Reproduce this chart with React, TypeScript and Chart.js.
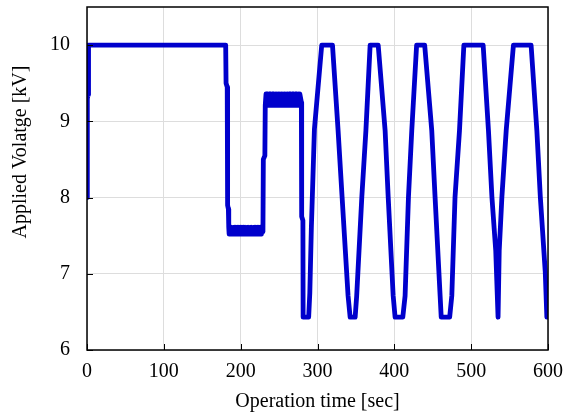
import React, { useEffect, useRef } from "react";
import { Chart, registerables } from "chart.js";

Chart.register(...registerables);

// Operation time [sec]
const timeSec: number[] = [
  0, 0.4, 1.5, 2,
  180.5, 181, 182.5, 183, 184, 184.5,
  185, 186, 187, 188, 189, 190, 191, 192, 193, 194, 195, 196, 197, 198, 199, 200, 201, 202, 203, 204, 205, 206,
  207, 208, 209, 210, 211, 212, 213, 214, 215, 216, 217, 218, 219, 220, 221, 222, 223, 224, 225, 226, 227, 228, 229,
  229.5, 231.5, 232,
  233, 234, 235, 236, 237, 238, 239, 240, 241, 242, 243, 244, 245, 246, 247, 248, 249, 250, 251, 252, 253, 254,
  255, 256, 257, 258, 259, 260, 261, 262, 263, 264, 265, 266, 267, 268, 269, 270, 271, 272, 273, 274, 275, 276, 277,
  279, 279.4, 281, 281.3,
  288.5, 290, 292, 296, 305.5,
  319.5, 326.8, 332, 339.8, 342.5,
  349, 351, 357.7, 363, 368.5,
  379, 388, 392, 398.5, 401,
  411, 414, 418.4, 422.7, 429,
  439.5, 448.7, 453, 459.6, 461,
  472, 474.8, 479, 484.8, 490.5,
  515.6, 522.5, 527, 532, 535,
  536.5, 540, 545.6, 555,
  578, 585.5, 590, 596.4, 598.5, 600,
];

// Applied voltage [kV]
const voltageKV: number[] = [
  8.0, 9.3, 9.35, 10.0,
  10.0, 9.5, 9.45, 7.9, 7.85, 7.61,
  7.52, 7.61, 7.52, 7.61, 7.52, 7.61, 7.52, 7.61, 7.52, 7.61, 7.52, 7.61, 7.52, 7.61, 7.52, 7.61, 7.52, 7.61, 7.52, 7.61, 7.52, 7.61,
  7.52, 7.61, 7.52, 7.61, 7.52, 7.61, 7.52, 7.61, 7.52, 7.61, 7.52, 7.61, 7.52, 7.61, 7.52, 7.61, 7.52, 7.61, 7.52, 7.61, 7.52, 7.61, 7.55,
  8.5, 8.55, 9.21,
  9.36, 9.21, 9.36, 9.21, 9.36, 9.21, 9.36, 9.21, 9.36, 9.21, 9.36, 9.21, 9.36, 9.21, 9.36, 9.21, 9.36, 9.21, 9.36, 9.21, 9.36, 9.21,
  9.36, 9.21, 9.36, 9.21, 9.36, 9.21, 9.36, 9.21, 9.36, 9.21, 9.36, 9.21, 9.36, 9.21, 9.36, 9.21, 9.36, 9.21, 9.36, 9.21, 9.36, 9.21, 9.36,
  9.25, 7.75, 7.7, 6.43,
  6.43, 6.75, 7.6, 8.9, 10.0,
  10.0, 8.88, 8.01, 6.71, 6.43,
  6.43, 6.71, 8.01, 8.88, 10.0,
  10.0, 8.88, 8.01, 6.71, 6.43,
  6.43, 6.71, 8.01, 8.88, 10.0,
  10.0, 8.88, 8.01, 6.71, 6.43,
  6.43, 6.71, 8.01, 8.88, 10.0,
  10.0, 8.88, 8.01, 7.3, 6.43,
  7.3, 8.01, 8.88, 10.0,
  10.0, 8.88, 8.01, 7.03, 6.43, 6.43,
];

const xTicks: number[] = [0, 100, 200, 300, 400, 500, 600];
const yTicks: number[] = [6, 7, 8, 9, 10];

const xTitle = "Operation time [sec]";
const yTitle = "Applied Volatge [kV]";

const FONT = "'Liberation Serif', 'Times New Roman', Times, serif";

const frameAndTicks = {
  id: "frameAndTicks",
  afterDraw(chart: any) {
    const { ctx, chartArea } = chart;
    const { left, right, top, bottom } = chartArea;
    const xs = chart.scales.x;
    const ys = chart.scales.y;
    ctx.save();
    ctx.strokeStyle = "#000";
    ctx.lineWidth = 1;
    ctx.beginPath();
    for (const v of xTicks) {
      const px = Math.round(xs.getPixelForValue(v)) + 0.5;
      ctx.moveTo(px, bottom);
      ctx.lineTo(px, bottom - 6);
    }
    for (const v of yTicks) {
      const py = Math.round(ys.getPixelForValue(v)) + 0.5;
      ctx.moveTo(left, py);
      ctx.lineTo(left + 6, py);
    }
    ctx.stroke();
    ctx.lineWidth = 1.5;
    ctx.strokeRect(left, top, right - left, bottom - top);
    // y axis title
    ctx.fillStyle = "#000";
    ctx.font = `20px ${FONT}`;
    ctx.textAlign = "center";
    ctx.textBaseline = "middle";
    ctx.translate(21, 152);
    ctx.rotate(-Math.PI / 2);
    ctx.fillText(yTitle, 0, 0);
    ctx.restore();
  },
};

const zeroPad = (s: any) => {
  s.paddingTop = 0;
  s.paddingBottom = 0;
  s.paddingLeft = 0;
  s.paddingRight = 0;
};

export default function App() {
  const canvasRef = useRef<HTMLCanvasElement | null>(null);

  useEffect(() => {
    if (!canvasRef.current) return;
    const points = timeSec.map((t, i) => ({ x: t, y: voltageKV[i] }));
    const chart = new Chart(canvasRef.current, {
      type: "line",
      data: {
        datasets: [
          {
            data: points,
            borderColor: "#0000cc",
            borderWidth: 4.8,
            pointRadius: 0,
            tension: 0,
            fill: false,
            borderJoinStyle: "round",
            borderCapStyle: "round",
          },
        ],
      },
      options: {
        animation: false,
        responsive: false,
        layout: { padding: { left: 0, right: 21, top: 7, bottom: 0 } },
        plugins: { legend: { display: false }, tooltip: { enabled: false } },
        scales: {
          x: {
            type: "linear",
            min: 0,
            max: 600,
            afterBuildTicks: (s: any) => {
              s.ticks = xTicks.map((v) => ({ value: v }));
            },
            afterFit: (s: any) => {
              s.height = 64;
              zeroPad(s);
            },
            grid: { color: "#dddddd", lineWidth: 1, drawTicks: false },
            border: { display: false },
            ticks: {
              color: "#000",
              font: { family: FONT, size: 20 },
              padding: 10,
              maxRotation: 0,
              autoSkip: false,
            },
            title: {
              display: true,
              text: xTitle,
              color: "#000",
              font: { family: FONT, size: 20 },
              padding: { top: 0, bottom: 0 },
            },
          },
          y: {
            type: "linear",
            min: 6,
            max: 10.5,
            afterBuildTicks: (s: any) => {
              s.ticks = yTicks.map((v) => ({ value: v }));
            },
            afterFit: (s: any) => {
              s.width = 87;
              zeroPad(s);
            },
            grid: { color: "#dddddd", lineWidth: 1, drawTicks: false },
            border: { display: false },
            ticks: {
              color: "#000",
              font: { family: FONT, size: 20 },
              padding: 17,
              autoSkip: false,
            },
          },
        },
      },
      plugins: [frameAndTicks],
    });
    return () => chart.destroy();
  }, []);

  return (
    <div style={{ position: "fixed", left: 0, top: 0, width: 569, height: 414, background: "#fff" }}>
      <canvas ref={canvasRef} width={569} height={414} />
    </div>
  );
}
